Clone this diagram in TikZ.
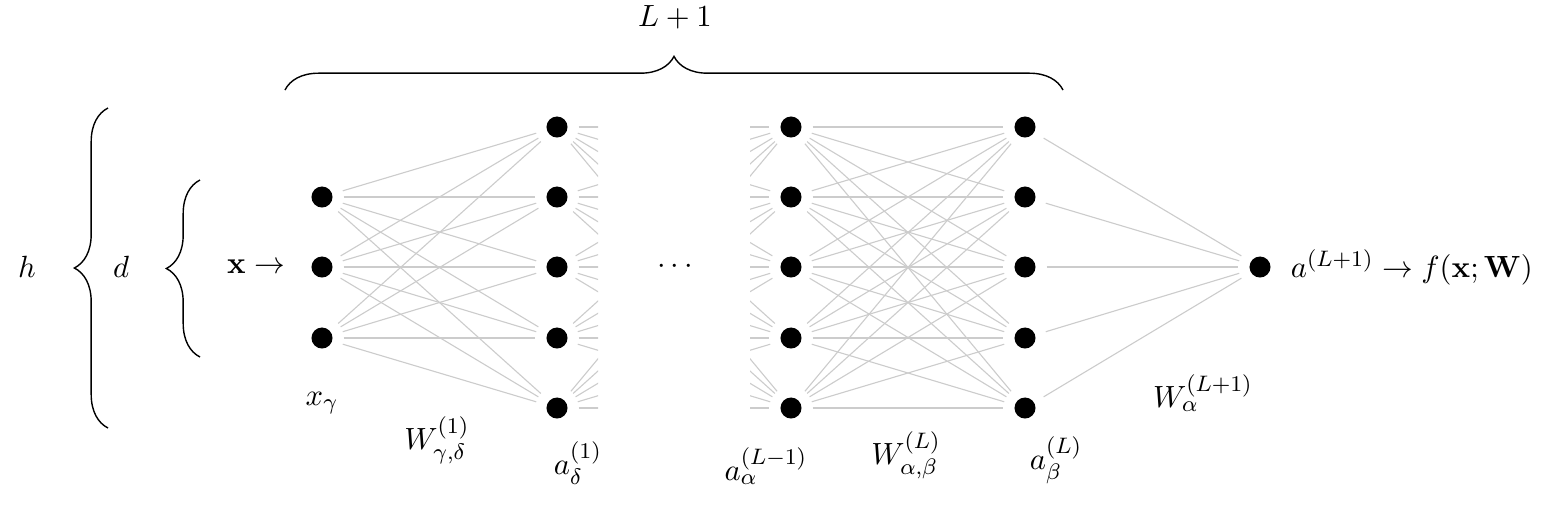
\documentclass[tikz,border=0pt]{standalone}
\usetikzlibrary{decorations.pathreplacing}
\begin{document}
\begin{tikzpicture}[x=0.01255cm, y=-0.01255cm,
		every node/.append style={font=\fontsize{10.95}{13}\selectfont},
		neuron/.style={circle, fill=black, minimum size=7.5pt, inner sep=0pt, outer sep=4pt},
		edge/.style={gray!40, line width=0.4pt},
		curly/.style={decorate, decoration={brace, amplitude=12pt}, line width=0.5pt}]
	\useasboundingbox (0,0) rectangle (1568,516);
	
	% NODES
	\foreach \i/\y in {1/197, 2/267, 3/338}
		\node[neuron] (x\i) at (322,\y) {}; % input
	\foreach \i/\y in {1/127, 2/197, 3/267, 4/338, 5/408} {
		\node[neuron] (p\i) at (557,\y) {}; % layer 1
		\node[neuron] (q\i) at (791,\y) {}; % layer L-1
		\node[neuron] (r\i) at (1025,\y) {}; % layer L
	}
	\node[neuron] (out) at (1260,267) {}; % output
	
	% DRAW EDGES
	\foreach \i in {1,2,3}
		\foreach \j in {1,...,5} \draw[edge] (x\i) -- (p\j);
	\foreach \i in {1,...,5}
		\foreach \j in {1,...,5} \draw[edge] (q\i) -- (r\j);
	\foreach \j in {1,...,5} \draw[edge] (r\j) -- (out);
	
	% CUT EDGES
	\begin{scope}
		\clip (540,100) rectangle (598,430);
		\foreach \i in {1,...,5}
			\foreach \j in {1,...,5} \draw[edge] (p\i) -- (q\j);
	\end{scope}
	\begin{scope}
		\clip (750,100) rectangle (810,430);
		\foreach \i in {1,...,5}
			\foreach \j in {1,...,5} \draw[edge] (p\i) -- (q\j);
	\end{scope}
	
	% BRACES
	\coordinate (hb) at (108,428);
	\coordinate (ht) at (108,108);
	\coordinate (db) at (200,357);
	\coordinate (dt) at (200,180);
	\coordinate (ll) at (285,90);
	\coordinate (lr) at (1063,90);
	\draw[curly] (hb) -- (ht);
	\draw[curly] (db) -- (dt);
	\draw[curly] (ll) -- (lr);
	
	% LABELS
	\node (h) at (27,267) {$h$};
	\node (d) at (121,267) {$d$};
	\node (L) at (675,17) {$L+1$};
	\node (xin) at (256,267) {$\mathbf{x}\rightarrow$};
	\node (dots) at (675,267) {$\cdots$};
	\node (xg) at (322,403) {$x_\gamma$};
	\node (W1) at (437,440) {$W^{(1)}_{\gamma,\delta}$};
	\node (a1) at (578,463) {$a^{(1)}_\delta$};
	\node (aL1) at (766,466) {$a^{(L-1)}_\alpha$};
	\node (WL) at (906,455) {$W^{(L)}_{\alpha,\beta}$};
	\node (aL) at (1056,460) {$a^{(L)}_\beta$};
	\node (WL1) at (1203,393) {$W^{(L+1)}_\alpha$};
	\node[anchor=west] (f) at (1281,267) {$a^{(L+1)}\rightarrow f(\mathbf{x};\mathbf{W})$};
\end{tikzpicture}
\end{document}
